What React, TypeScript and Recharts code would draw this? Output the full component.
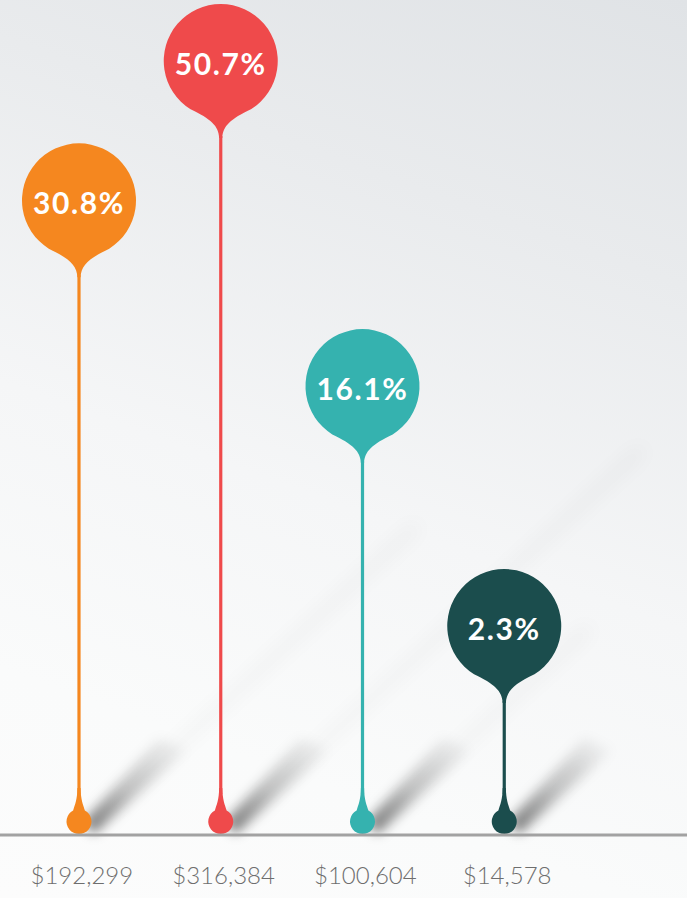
import { BarChart, Bar, XAxis, YAxis } from 'recharts';

const categories = ['$192,299', '$316,384', '$100,604', '$14,578'];
const shares = [30.8, 50.7, 16.1, 2.3];
// balloon height relative to the tallest one (the infographic does not scale these linearly)
const headLevels = [82, 100, 58, 27];

const colors = ['#f5871f', '#ef4a4b', '#35b2af', '#1b4d4d'];

const data = categories.map((label, i) => ({
  label,
  share: shares[i],
  level: headLevels[i],
}));

const R = 57;
const DROP = 12.5;

const Balloon = (props: any) => {
  const { x, y, width, height, index } = props;
  const color = colors[index];
  const cx = x + width / 2;
  const cy = y;
  const base = y + height - 1;
  const a = (32 * Math.PI) / 180;
  const sx = R * Math.sin(a);
  const sy = R * Math.cos(a);
  const neckEnd = cy + R + 20;

  const head =
    `M ${cx - 1.6} ${neckEnd} ` +
    `C ${cx - 2} ${cy + R + 8}, ${cx - 10} ${cy + R + 1}, ${cx - sx} ${cy + sy} ` +
    `A ${R} ${R} 0 1 1 ${cx + sx} ${cy + sy} ` +
    `C ${cx + 10} ${cy + R + 1}, ${cx + 2} ${cy + R + 8}, ${cx + 1.6} ${neckEnd} Z`;

  // bulb at the foot, with a concave neck into the stem
  const b = (28 * Math.PI) / 180;
  const dcy = base - DROP;
  const dx = DROP * Math.sin(b);
  const dy = DROP * Math.cos(b);
  const drop =
    `M ${cx - 1.6} ${base - 46} ` +
    `C ${cx - 1.8} ${base - 34}, ${cx - 4} ${dcy - dy - 6}, ${cx - dx} ${dcy - dy} ` +
    `A ${DROP} ${DROP} 0 1 0 ${cx + dx} ${dcy - dy} ` +
    `C ${cx + 4} ${dcy - dy - 6}, ${cx + 1.8} ${base - 34}, ${cx + 1.6} ${base - 46} Z`;

  const stemLen = base - neckEnd;
  const longShadow =
    `M ${cx + 2} ${base - 4} L ${cx + 8} ${base} ` +
    `L ${cx + 8 + stemLen * 0.6} ${base - stemLen * 0.55} L ${cx + 2 + stemLen * 0.6} ${base - stemLen * 0.55 - 6} Z`;
  const dropShadow =
    `M ${cx + 4} ${base - 12} L ${cx + 15} ${base} L ${cx + 108} ${base - 84} L ${cx + 80} ${base - 96} Z`;

  return (
    <g>
      <path d={longShadow} fill="#000" opacity={0.05} filter="url(#blurWide)" />
      <path d={dropShadow} fill="url(#shadowFade)" filter="url(#blurSoft)" />
      <line x1={cx} x2={cx} y1={neckEnd - 2} y2={base - 40} stroke={color} strokeWidth={3.2} />
      <path d={head} fill={color} />
      <path d={drop} fill={color} />
      <text
        x={cx}
        y={cy + 2}
        textAnchor="middle"
        dominantBaseline="central"
        fill="#ffffff"
        fontFamily="Lato, 'Open Sans', sans-serif"
        fontWeight={700}
        fontSize={30}
        letterSpacing={1.6}
      >
        {`${shares[index]}%`}
      </text>
    </g>
  );
};

const Tick = (props: any) => {
  const { x, y, payload } = props;
  return (
    <text
      x={x + 3}
      y={y + 47}
      textAnchor="middle"
      fill="#6e6e6e"
      fontFamily="Lato, sans-serif"
      fontWeight={300}
      fontSize={24}
    >
      {payload.value}
    </text>
  );
};

export default function App() {
  return (
    <div
      style={{
        position: 'absolute',
        left: 0,
        top: 0,
        width: 687,
        height: 898,
        background:
          'linear-gradient(200deg, #e0e3e6 0%, #e9ebed 25%, #f5f6f7 55%, #fafbfb 80%, #fcfcfc 100%)',
      }}
    >
      <BarChart
        width={687}
        height={898}
        data={data}
        margin={{ top: 61, right: 0, bottom: 0, left: 0 }}
        barCategoryGap={0}
      >
        <defs>
          <linearGradient id="shadowFade" x1="0" y1="1" x2="1" y2="0">
            <stop offset="0%" stopColor="#000" stopOpacity={0.55} />
            <stop offset="45%" stopColor="#000" stopOpacity={0.22} />
            <stop offset="100%" stopColor="#000" stopOpacity={0} />
          </linearGradient>
          <filter id="blurSoft" x="-50%" y="-50%" width="200%" height="200%">
            <feGaussianBlur stdDeviation="6" />
          </filter>
          <filter id="blurWide" x="-50%" y="-50%" width="200%" height="200%">
            <feGaussianBlur stdDeviation="10" />
          </filter>
        </defs>
        <XAxis
          dataKey="label"
          height={63}
          padding={{ left: 8, right: 112 }}
          axisLine={{ stroke: '#a2a2a2', strokeWidth: 3 }}
          tickLine={false}
          tickSize={0}
          tick={<Tick />}
          interval={0}
        />
        <YAxis hide domain={[0, 100]} />
        <Bar dataKey="level" shape={<Balloon />} isAnimationActive={false} />
      </BarChart>
    </div>
  );
}
